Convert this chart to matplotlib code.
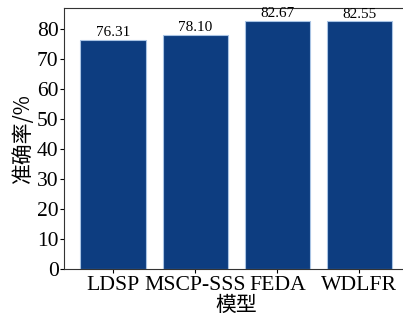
import matplotlib
matplotlib.use('Agg')
import matplotlib.pyplot as plt

# data
models = ['LDSP', 'MSCP-SSS', 'FEDA', 'WDLFR']
accuracy = [76.31, 78.10, 82.67, 82.55]
yticks = [0, 10, 20, 30, 40, 50, 60, 70, 80]

plt.rcParams['font.family'] = ['Liberation Serif', 'Noto Sans CJK SC']
plt.rcParams['axes.unicode_minus'] = False

fig = plt.figure(figsize=(4.03, 3.21), dpi=100)
ax = fig.add_axes([0.159, 0.162, 0.855, 0.813])

x = range(len(models))
bars = ax.bar(x, accuracy, width=0.8, color='#0d3d80', edgecolor='#a9c4e4', linewidth=0.8)
for xi, v in zip(x, accuracy):
    ax.text(xi, v + 0.2, '%.2f' % v, ha='center', va='bottom', fontsize=11)

ax.set_xlim(-0.6, len(models) - 0.4)
ax.set_ylim(0, 87)
ax.set_yticks(yticks)
ax.set_xticks(list(x))
ax.set_xticklabels(models, fontsize=15.6)
ax.tick_params(axis='y', labelsize=15.5, length=3, pad=1)
ax.tick_params(axis='x', length=3, pad=2)
ax.set_ylabel('准确率/%', fontsize=15, labelpad=2, family=['Noto Sans CJK SC'])
ax.set_xlabel('模型', fontsize=15, labelpad=1)
for s in ax.spines.values():
    s.set_color('#333333')
    s.set_linewidth(0.8)

fig.savefig('out.png', dpi=100)
